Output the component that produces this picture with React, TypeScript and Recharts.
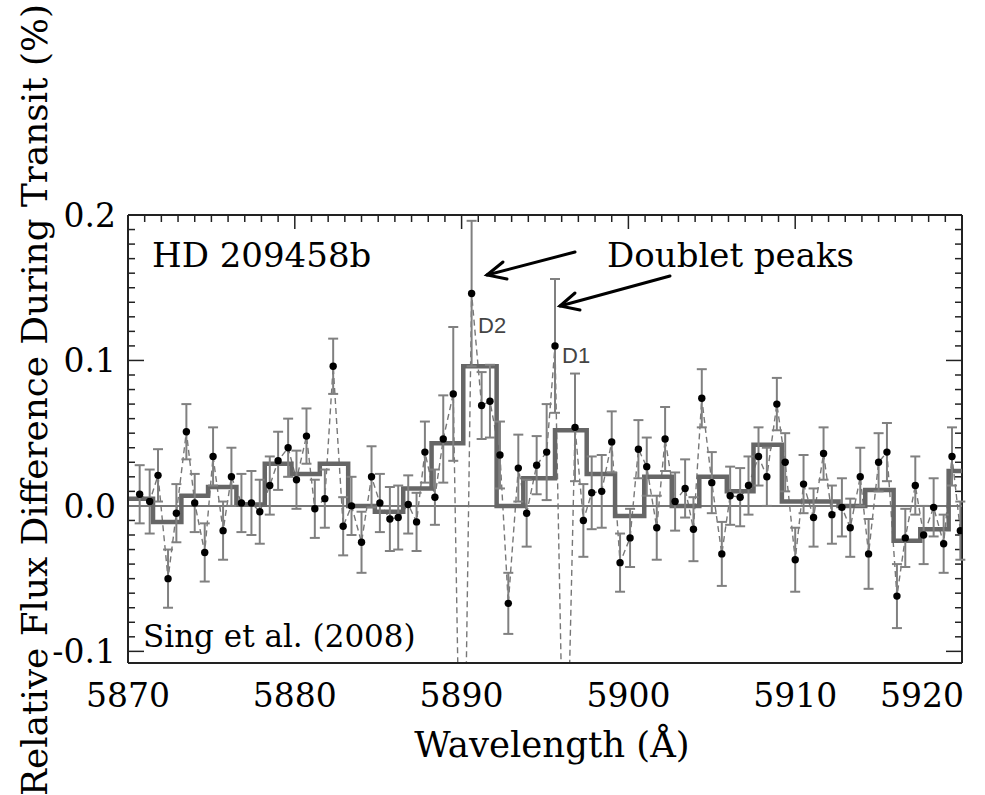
import { ComposedChart, Scatter, ErrorBar, Line, XAxis, YAxis, ReferenceLine } from "recharts";

// Wavelength (Å) of each binned measurement.
const wavelength = [
  5870.7, 5871.3, 5871.8, 5872.4, 5872.9, 5873.5, 5874.0, 5874.6, 5875.1, 5875.7,
  5876.2, 5876.8, 5877.4, 5877.9, 5878.5, 5879.0, 5879.6, 5880.1, 5880.7, 5881.2,
  5881.8, 5882.3, 5882.9, 5883.4, 5884.0, 5884.6, 5885.1, 5885.7, 5886.2, 5886.8,
  5887.3, 5887.8, 5888.4, 5888.9, 5889.5, 5890.6, 5891.2, 5891.7, 5892.3, 5892.8,
  5893.4, 5893.9, 5894.5, 5895.1, 5895.6, 5896.8, 5897.3, 5897.8, 5898.4, 5899.0,
  5899.5, 5900.1, 5900.6, 5901.1, 5901.7, 5902.2, 5902.8, 5903.4, 5903.9, 5904.4,
  5905.0, 5905.6, 5906.1, 5906.7, 5907.2, 5907.8, 5908.3, 5908.9, 5909.4, 5910.0,
  5910.5, 5911.1, 5911.7, 5912.2, 5912.8, 5913.3, 5913.9, 5914.4, 5915.0, 5915.5,
  5916.1, 5916.6, 5917.2, 5917.7, 5918.3, 5918.9, 5919.4, 5919.9,
];

// Relative flux difference (%) at each wavelength.
const fluxDiff = [
  0.008, 0.003, 0.021, -0.050, -0.005, 0.051, 0.002, -0.032, 0.034, -0.017,
  0.020, 0.002, 0.002, -0.004, 0.014, 0.031, 0.040, 0.018, 0.048, -0.002,
  0.005, 0.096, -0.014, 0.000, -0.025, 0.020, 0.002, -0.009, -0.008, 0.001,
  -0.011, 0.037, 0.006, 0.046, 0.077, 0.146, 0.069, 0.072, 0.035, -0.067,
  0.026, -0.005, 0.028, 0.037, 0.110, 0.054, -0.010, 0.009, 0.010, 0.044,
  -0.039, -0.022, 0.039, 0.027, -0.015, 0.046, 0.003, 0.012, -0.016, 0.074,
  0.016, -0.033, 0.007, 0.006, 0.014, 0.034, 0.020, 0.070, 0.030, -0.037,
  0.015, -0.008, 0.036, -0.006, -0.001, -0.015, 0.020, -0.033, 0.030, 0.037,
  -0.062, -0.022, 0.014, -0.020, -0.001, -0.026, 0.034, -0.017,
];

// 1-sigma uncertainty of each point.
const fluxErr = [
  0.02, 0.022, 0.018, 0.02, 0.02, 0.019, 0.02, 0.02, 0.02, 0.02,
  0.02, 0.02, 0.022, 0.022, 0.02, 0.02, 0.02, 0.02, 0.019, 0.02,
  0.02, 0.019, 0.02, 0.02, 0.021, 0.021, 0.02, 0.022, 0.022, 0.02,
  0.02, 0.021, 0.019, 0.03, 0.046, 0.05, 0.023, 0.025, 0.023, 0.021,
  0.023, 0.023, 0.02, 0.033, 0.046, 0.037, 0.025, 0.025, 0.025, 0.021,
  0.02, 0.02, 0.02, 0.02, 0.022, 0.022, 0.02, 0.02, 0.022, 0.02,
  0.021, 0.022, 0.02, 0.02, 0.02, 0.02, 0.02, 0.018, 0.02, 0.022,
  0.02, 0.02, 0.018, 0.02, 0.02, 0.02, 0.02, 0.024, 0.02, 0.02,
  0.022, 0.02, 0.02, 0.02, 0.02, 0.02, 0.02, 0.02,
];

// Line-core samples that fall far below the plot (only the dashed trace reaches them).
const coreWavelength = [5890.05, 5896.2];
const coreFlux = [-0.3, -0.25];

// Binned (thick step) curve: bin start and level.
const binStart = [
  5870.0, 5871.5, 5873.2, 5874.8, 5876.5, 5878.2, 5879.8, 5881.5, 5883.2, 5884.8,
  5886.5, 5888.2, 5890.1, 5892.1, 5893.7, 5895.6, 5897.5, 5899.2, 5900.95, 5902.6,
  5904.25, 5905.9, 5907.5, 5909.2, 5912.6, 5914.2, 5915.9, 5917.5, 5919.2, 5920.0,
];
const binLevel = [
  0.005, -0.011, 0.007, 0.013, 0.001, 0.029, 0.022, 0.029, 0.0, -0.004,
  0.012, 0.043, 0.096, 0.0, 0.019, 0.052, 0.022, -0.007, 0.020, 0.0,
  0.020, 0.010, 0.042, 0.003, 0.0, 0.011, -0.024, -0.016, 0.024, 0.024,
];

const xTicks = [5870, 5880, 5890, 5900, 5910, 5920];
const yTicks = [-0.1, 0.0, 0.1, 0.2];
const xMinorTicks = Array.from({ length: 51 }, (_, i) => 5870 + i);
const yMinorTicks = Array.from({ length: 31 }, (_, i) => Math.round((-0.1 + i * 0.01) * 1000) / 1000);

const points = wavelength.map((wl, i) => ({ wl, flux: fluxDiff[i], err: fluxErr[i] }));
const dashed = [
  ...points.map((p) => ({ wl: p.wl, flux: p.flux })),
  ...coreWavelength.map((wl, i) => ({ wl, flux: coreFlux[i] })),
].sort((a, b) => a.wl - b.wl);
const steps = binStart.map((wl, i) => ({ wl, level: binLevel[i] }));

const FONT = "'DejaVu Serif', serif";
const FRAME = "#222";
const X_DOMAIN: [number, number] = [5870, 5920];
const Y_DOMAIN: [number, number] = [-0.108, 0.2];
// plot is 834 px wide over 50 Å and 448 px tall over 0.308
const PX_X = 50 / 834;
const PX_Y = 0.308 / 448;

function Dot(props: any) {
  const { cx, cy } = props;
  if (cx == null || cy == null) return null;
  return <circle cx={cx} cy={cy} r={3.7} fill="#000" />;
}

// bottom tick label; the last one is pulled inside the frame as in the original
function XTick(props: any) {
  const { x, y, payload } = props;
  const last = payload.value === xTicks[xTicks.length - 1];
  return (
    <text x={last ? x + 2 : x} y={y} dy={24} textAnchor={last ? "end" : "middle"} fontSize={33} fontFamily={FONT} fill="#000">
      {payload.value}
    </text>
  );
}

const tickStyle = { stroke: FRAME, strokeWidth: 1.5, ifOverflow: "visible" as const };

export default function App() {
  const isMajorX = (v: number) => xTicks.includes(v);
  const isMajorY = (v: number) => yTicks.some((t) => Math.abs(t - v) < 1e-6);
  return (
    <div style={{ position: "absolute", left: 0, top: 0, width: 985, height: 795, background: "#fff", fontFamily: FONT }}>
      <ComposedChart width={985} height={795} margin={{ top: 215, right: 23, bottom: 72, left: 28 }}>
        <XAxis
          xAxisId="x"
          dataKey="wl"
          type="number"
          domain={X_DOMAIN}
          ticks={xTicks}
          allowDataOverflow
          height={60}
          tickLine={false}
          tickSize={0}
          tickMargin={20}
          axisLine={{ stroke: FRAME, strokeWidth: 2 }}
          tick={<XTick />}
        />
        <YAxis
          yAxisId="y"
          type="number"
          domain={Y_DOMAIN}
          ticks={yTicks}
          allowDataOverflow
          width={100}
          tickLine={false}
          tickSize={0}
          tickMargin={12}
          tickFormatter={(v: number) => v.toFixed(1)}
          axisLine={{ stroke: FRAME, strokeWidth: 2 }}
          tick={{ fill: "#000", fontSize: 33, fontFamily: FONT }}
        />

        {/* top and right frame */}
        <ReferenceLine xAxisId="x" yAxisId="y" y={0.2} stroke={FRAME} strokeWidth={2} ifOverflow="visible" />
        <ReferenceLine xAxisId="x" yAxisId="y" x={5920} stroke={FRAME} strokeWidth={2} ifOverflow="visible" />

        {/* inward ticks: top edge */}
        {xMinorTicks.map((v) => (
          <ReferenceLine key={`tx${v}`} xAxisId="x" yAxisId="y" {...tickStyle}
            segment={[{ x: v, y: 0.2 }, { x: v, y: 0.2 - (isMajorX(v) ? 14 : 7) * PX_Y }]} />
        ))}
        {/* inward ticks: left and right edges */}
        {yMinorTicks.map((v) => (
          <ReferenceLine key={`ly${v}`} xAxisId="x" yAxisId="y" {...tickStyle}
            segment={[{ x: 5870, y: v }, { x: 5870 + (isMajorY(v) ? 16 : 7) * PX_X, y: v }]} />
        ))}
        {yMinorTicks.map((v) => (
          <ReferenceLine key={`ry${v}`} xAxisId="x" yAxisId="y" {...tickStyle}
            segment={[{ x: 5920, y: v }, { x: 5920 - (isMajorY(v) ? 16 : 7) * PX_X, y: v }]} />
        ))}

        <ReferenceLine xAxisId="x" yAxisId="y" y={0} stroke="#777" strokeWidth={2} />

        {/* unbinned trace, dashed */}
        <Line xAxisId="x" yAxisId="y" data={dashed} dataKey="flux" type="linear" stroke="#777" strokeWidth={1.4}
          strokeDasharray="6 4" dot={false} isAnimationActive={false} />

        {/* binned step curve */}
        <Line xAxisId="x" yAxisId="y" data={steps} dataKey="level" type="stepAfter" stroke="#666" strokeWidth={4.5}
          dot={false} isAnimationActive={false} />

        {/* measurements with error bars */}
        <Scatter xAxisId="x" yAxisId="y" data={points} dataKey="flux" shape={Dot} isAnimationActive={false}>
          <ErrorBar dataKey="err" direction="y" stroke="#808080" strokeWidth={2} width={5} />
        </Scatter>

        {/* annotations */}
        <text x={152} y={267} fontSize={34} fontFamily={FONT} fill="#000">HD 209458b</text>
        <text x={607} y={267} fontSize={34} fontFamily={FONT} fill="#000">Doublet peaks</text>
        <text x={143} y={647} fontSize={31} fontFamily={FONT} fill="#000">Sing et al. (2008)</text>
        <text x={478} y={333} fontSize={22} fontFamily="'Liberation Sans', Arial, sans-serif" fill="#444">D2</text>
        <text x={562} y={363} fontSize={22} fontFamily="'Liberation Sans', Arial, sans-serif" fill="#444">D1</text>
        <g stroke="#000" strokeWidth={3} fill="none" strokeLinecap="round">
          <line x1={575} y1={252} x2={487} y2={275} />
          <polyline points="503,262 487,275 507,279" />
          <line x1={670} y1={276} x2={560} y2={306} />
          <polyline points="575,293 560,306 580,310" />
        </g>
        <text x={552} y={757} fontSize={35.5} fontFamily={FONT} fill="#000" textAnchor="middle">Wavelength (Å)</text>
        <text transform="rotate(-90)" x={-400} y={47} fontSize={35.8} fontFamily={FONT} fill="#000" textAnchor="middle">
          Relative Flux Difference During Transit (%)
        </text>
      </ComposedChart>
    </div>
  );
}
